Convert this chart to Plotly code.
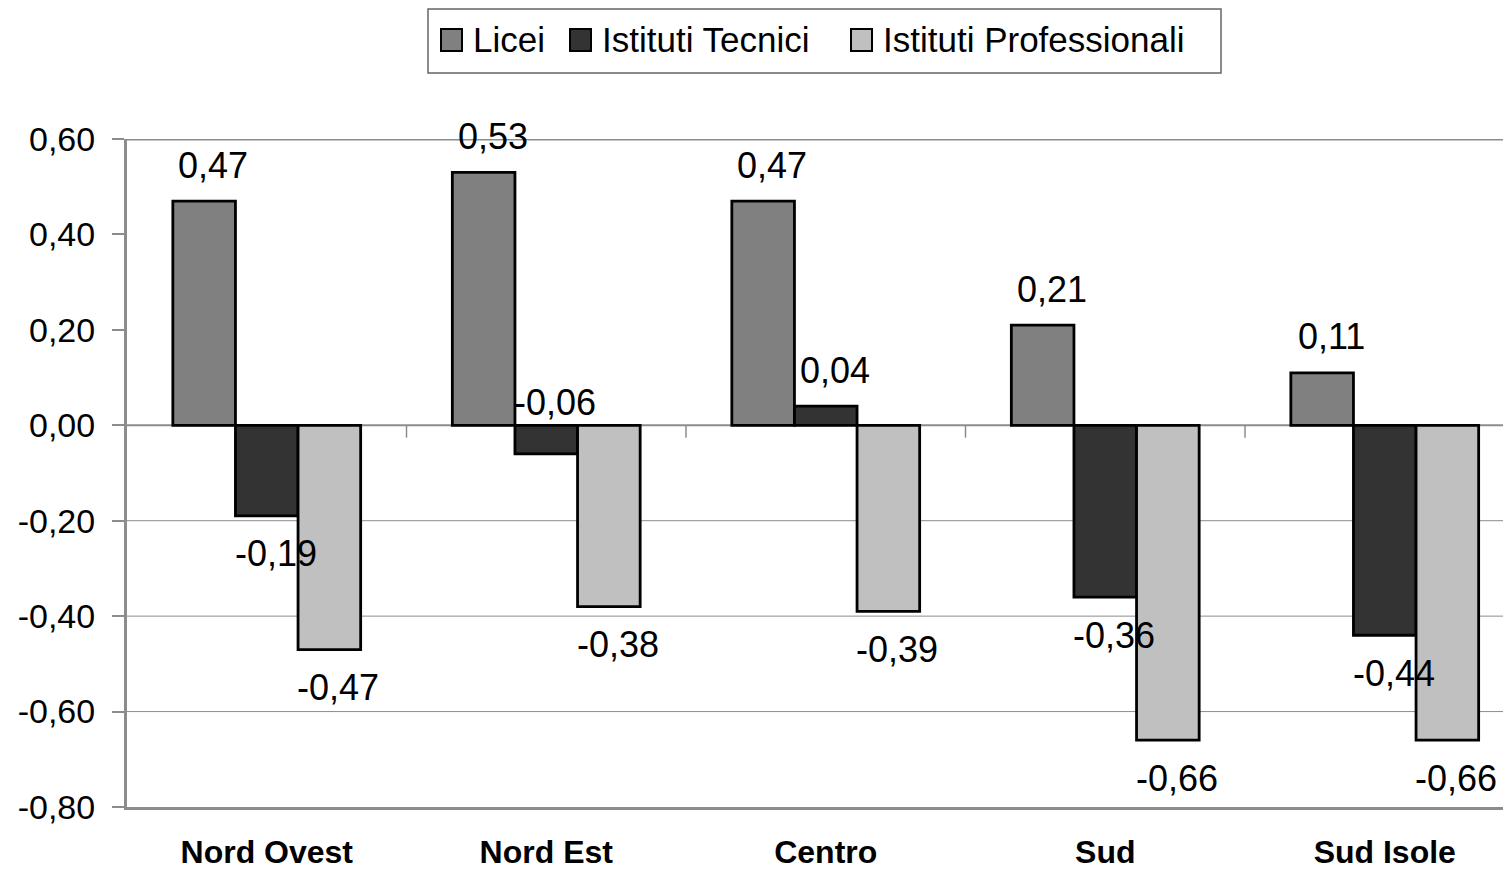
import plotly.graph_objects as go

regions = ["Nord Ovest", "Nord Est", "Centro", "Sud", "Sud Isole"]
series_names = ["Licei", "Istituti Tecnici", "Istituti Professionali"]
licei = [0.47, 0.53, 0.47, 0.21, 0.11]
tecnici = [-0.19, -0.06, 0.04, -0.36, -0.44]
professionali = [-0.47, -0.38, -0.39, -0.66, -0.66]
y_ticks = [-0.8, -0.6, -0.4, -0.2, 0.0, 0.2, 0.4, 0.6]

COLORS = ["#808080", "#333333", "#c0c0c0"]
FONT = "Liberation Sans, Arial, sans-serif"
GRID = "#8c8c8c"

# page body has an 8px margin, so the figure is drawn 8px in from the corner
PAGE_OFF = 8
W, H = 1511 - 2 * PAGE_OFF, 880 - 2 * PAGE_OFF
# plot area in page pixels
P_LEFT, P_TOP, P_BOTTOM = 127, 139, 807
L = P_LEFT - PAGE_OFF
T = P_TOP - PAGE_OFF
B = H - (P_BOTTOM - PAGE_OFF)
PLOT_W = W - L
PLOT_H = H - T - B
CAT_PX = 279.5          # width of one category in pixels
BARGAP = 0.328


def px_x(p):
    return (p - P_LEFT) / PLOT_W


def px_y(p):
    return (P_BOTTOM - p) / PLOT_H


def fmt(v):
    return f"{v:.2f}".replace(".", ",")


fig = go.Figure()
values = [licei, tecnici, professionali]
for name, vals, color in zip(series_names, values, COLORS):
    fig.add_trace(go.Bar(
        name=name, x=list(range(len(regions))), y=vals,
        marker=dict(color=color, line=dict(color="black", width=2.8)),
        showlegend=False,
    ))

# data labels
bar_w = (1 - BARGAP) / len(series_names)
for s, vals in enumerate(values):
    off = (s - 1) * bar_w
    for i, v in enumerate(vals):
        if v >= 0:
            y, shift = v, 36
        elif v > -0.1:
            y, shift = 0, 23
        else:
            y, shift = v, -38
        fig.add_annotation(x=i + off, y=y, text=fmt(v), showarrow=False,
                           xshift=9, yshift=shift, yanchor="middle",
                           font=dict(size=36, color="black", family=FONT))

# horizontal grid lines (only negatives visible in the original)
for t in y_ticks:
    if -0.8 < t < 0:
        fig.add_shape(type="line", xref="paper", x0=0, x1=1, y0=t, y1=t,
                      line=dict(color=GRID, width=1), layer="below")
# zero line with small category ticks
fig.add_shape(type="line", xref="paper", x0=0, x1=1, y0=0, y1=0,
              line=dict(color=GRID, width=2), layer="below")
for i in range(len(regions) - 1):
    fig.add_shape(type="line", x0=i + 0.5, x1=i + 0.5, y0=0, y1=-0.026,
                  line=dict(color=GRID, width=1.5), layer="below")
# top border
fig.add_shape(type="line", xref="paper", x0=0, x1=1, y0=0.6, y1=0.6,
              line=dict(color=GRID, width=3))

# legend built by hand
fig.add_shape(type="rect", xref="paper", yref="paper",
              x0=px_x(428), x1=px_x(1221), y0=px_y(73), y1=px_y(9),
              line=dict(color="#666666", width=1.5), fillcolor="white")
legend_sq = [441, 570, 851]
for name, color, sx in zip(series_names, COLORS, legend_sq):
    fig.add_shape(type="rect", xref="paper", yref="paper",
                  x0=px_x(sx), x1=px_x(sx + 21), y0=px_y(51), y1=px_y(29),
                  line=dict(color="black", width=2), fillcolor=color)
    fig.add_annotation(xref="paper", yref="paper", x=px_x(sx + 30), y=px_y(39),
                       text=name, showarrow=False, xanchor="left", yanchor="middle",
                       font=dict(size=35, color="black", family=FONT))

fig.update_layout(
    width=W, height=H,
    margin=dict(l=L, r=0, t=T, b=B, autoexpand=False),
    barmode="group", bargap=BARGAP, bargroupgap=0,
    plot_bgcolor="white", paper_bgcolor="white",
    font=dict(family=FONT, color="black"),
    xaxis=dict(
        tickvals=list(range(len(regions))),
        ticktext=[f"<b>{r}</b>" for r in regions],
        range=[-0.5, -0.5 + PLOT_W / CAT_PX],
        showgrid=False, zeroline=False,
        showline=True, linecolor=GRID, linewidth=3,
        ticks="outside", ticklen=15, tickcolor="rgba(0,0,0,0)",
        tickfont=dict(size=32, family=FONT),
    ),
    yaxis=dict(
        range=[-0.8, 0.6], tickvals=y_ticks, ticktext=[fmt(t) for t in y_ticks],
        showgrid=False, zeroline=False,
        showline=True, linecolor=GRID, linewidth=3,
        ticks="outside", ticklen=12, tickcolor=GRID, tickwidth=1.5,
        ticklabelstandoff=10,
        tickfont=dict(size=34, family=FONT),
    ),
)

fig.write_html("out.html")
